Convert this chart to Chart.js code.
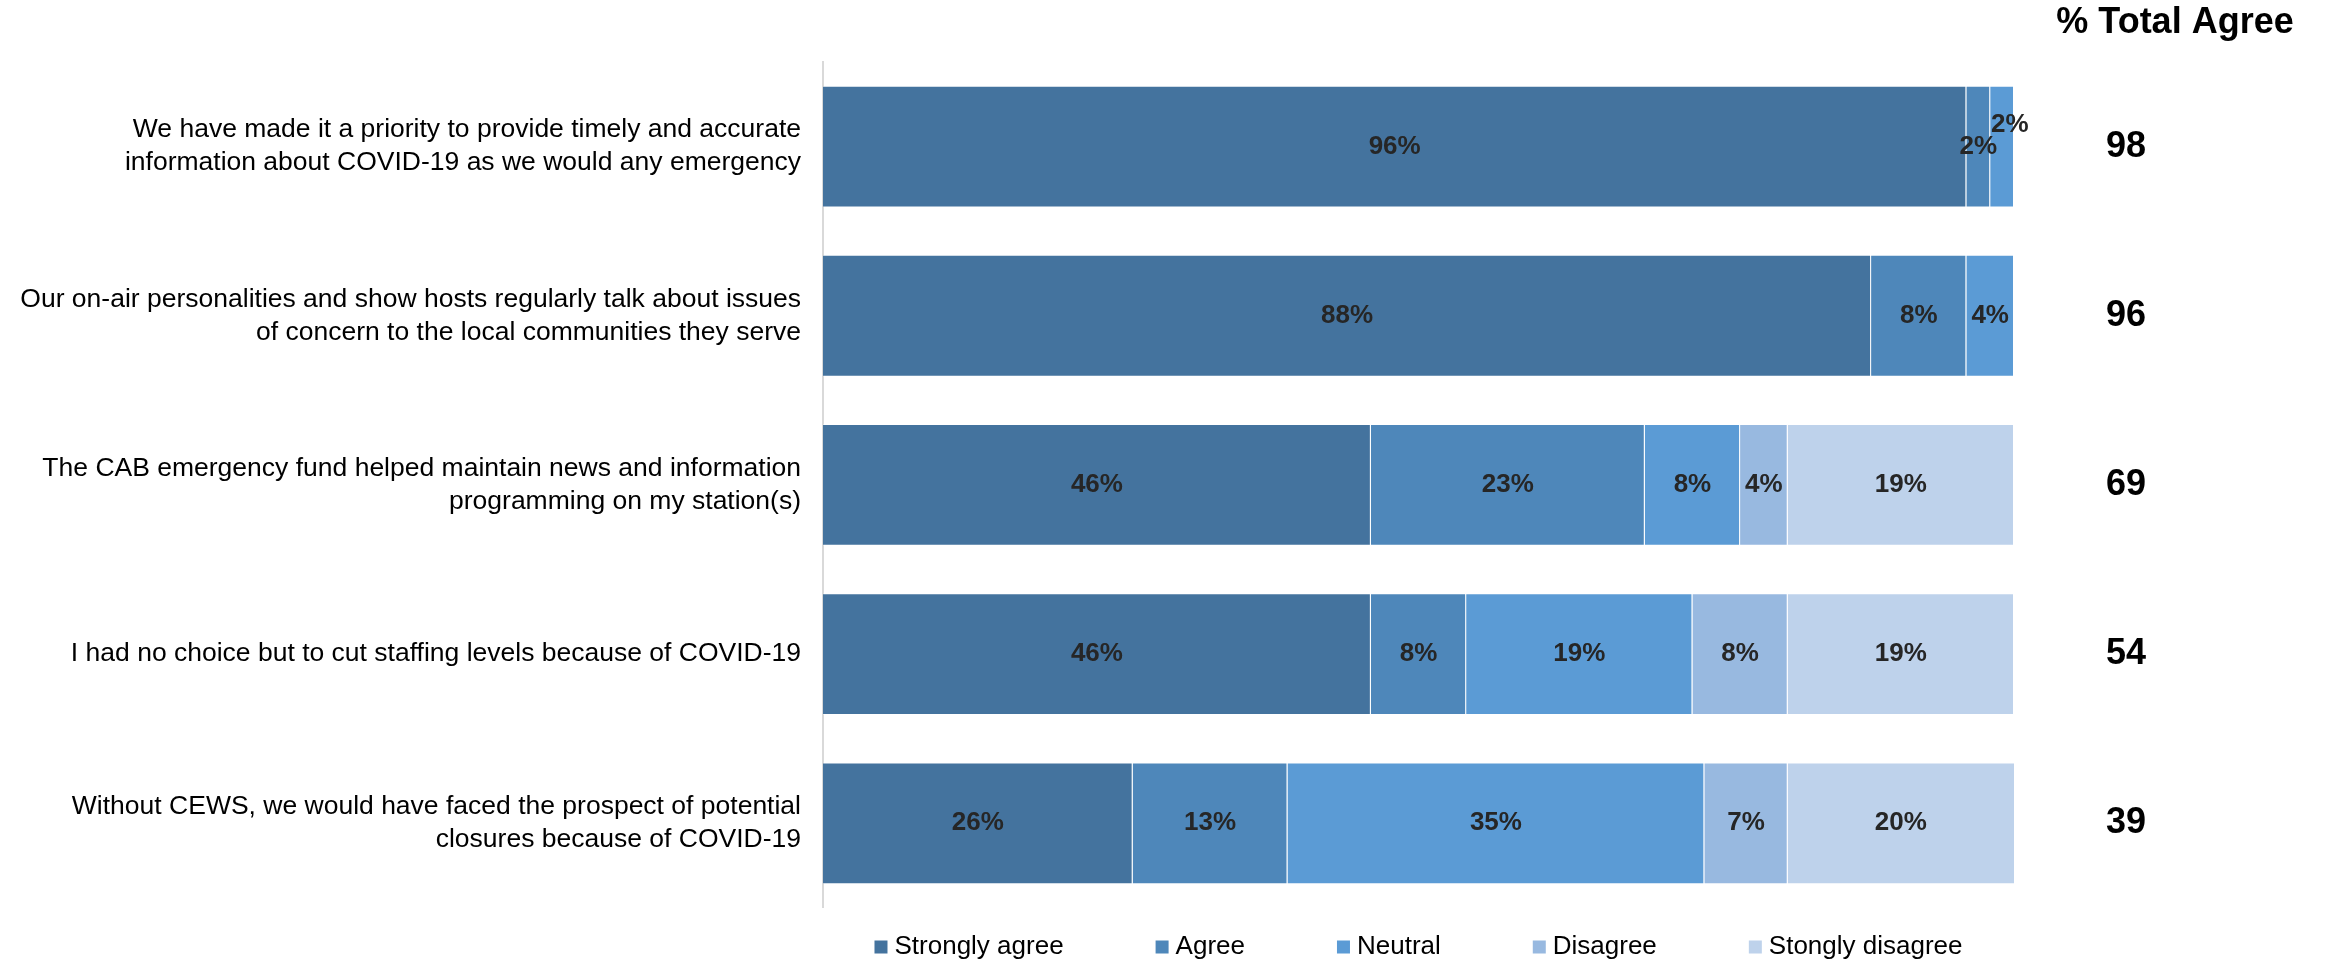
<!DOCTYPE html>
<html>
<head>
<meta charset="utf-8">
<script src="https://cdn.jsdelivr.net/npm/chart.js@4"></script>
<style>
  body { margin: 0; background: #fff; }
  canvas { display: block; }
</style>
</head>
<body>
<canvas id="agreeChart" width="2325" height="963"></canvas>
<script>
const categories = [
    ['We have made it a priority to provide timely and accurate', 'information about COVID-19 as we would any emergency'],
    ['Our on-air personalities and show hosts regularly talk about issues', 'of concern to the local communities they serve'],
    ['The CAB emergency fund helped maintain news and information', 'programming on my station(s)'],
    'I had no choice but to cut staffing levels because of COVID-19',
    ['Without CEWS, we would have faced the prospect of potential', 'closures because of COVID-19']
];
const seriesNames = ['Strongly agree', 'Agree', 'Neutral', 'Disagree', 'Stongly disagree'];
const stronglyAgree = [96, 88, 46, 46, 26];
const agree = [2, 8, 23, 8, 13];
const neutral = [2, 4, 8, 19, 35];
const disagree = [0, 0, 4, 8, 7];
const stronglyDisagree = [0, 0, 19, 19, 20];
const totalAgree = [98, 96, 69, 54, 39];
const colors = ['#44739e', '#4e87ba', '#5b9bd5', '#98b9e0', '#bed2eb'];

const FONT = '"Liberation Sans", Arial, sans-serif';

// percentage labels inside the segments, the total column and a legend
const extras = {
    id: 'extras',
    afterDatasetsDraw(chart) {
        const ctx = chart.ctx;
        const area = chart.chartArea;
        ctx.save();
        ctx.font = 'bold 26px ' + FONT;
        ctx.fillStyle = '#262626';
        ctx.textAlign = 'center';
        ctx.textBaseline = 'middle';
        const lastRight = [];
        chart.data.datasets.forEach((ds, i) => {
            chart.getDatasetMeta(i).data.forEach((bar, j) => {
                const v = ds.data[j];
                if (!v) return;
                const text = v + '%';
                const w = ctx.measureText(text).width;
                let x = (bar.base + Math.min(bar.x, area.right)) / 2;
                let y = bar.y;
                // nudge a label up and right when it runs into the one before it
                if (lastRight[j] !== undefined && x - w / 2 < lastRight[j]) {
                    x = lastRight[j] - 6 + w / 2;
                    y -= 22;
                }
                ctx.fillText(text, x, y);
                lastRight[j] = x + w / 2;
            });
        });

        // total agree column
        ctx.fillStyle = '#000';
        ctx.font = 'bold 36px ' + FONT;
        const yScale = chart.scales.y;
        totalAgree.forEach((t, j) => {
            ctx.fillText(String(t), area.right + 112, yScale.getPixelForValue(j));
        });
        ctx.fillText('% Total Agree', area.right + 161, 23);

        // legend
        ctx.font = '26px ' + FONT;
        ctx.textAlign = 'left';
        const box = 13, gap = 7, spacing = 92;
        const widths = chart.data.datasets.map(ds => box + gap + ctx.measureText(ds.label).width);
        const total = widths.reduce((a, b) => a + b, 0) + spacing * (widths.length - 1);
        let x = (area.left + area.right) / 2 - total / 2;
        const ly = 947;
        chart.data.datasets.forEach((ds, i) => {
            ctx.fillStyle = ds.backgroundColor;
            ctx.fillRect(x, ly - box / 2, box, box);
            ctx.fillStyle = '#000';
            ctx.fillText(ds.label, x + box + gap, ly);
            x += widths[i] + spacing;
        });
        ctx.restore();
    }
};

const seriesValues = [stronglyAgree, agree, neutral, disagree, stronglyDisagree];

new Chart(document.getElementById('agreeChart'), {
    type: 'bar',
    data: {
        labels: categories,
        datasets: seriesValues.map((values, i) => ({
            label: seriesNames[i],
            data: values,
            backgroundColor: colors[i],
            borderColor: 'rgba(255,255,255,0.35)',
            borderWidth: 1,
            categoryPercentage: 0.72,
            barPercentage: 1.0
        }))
    },
    options: {
        indexAxis: 'y',
        responsive: false,
        animation: false,
        layout: {
            padding: { top: 62, bottom: 55, right: 311, left: 0 }
        },
        scales: {
            x: {
                stacked: true,
                min: 0,
                max: 100,
                display: false
            },
            y: {
                stacked: true,
                grid: { display: false, drawTicks: false },
                border: { display: true, color: '#d9d9d9', width: 2 },
                ticks: {
                    padding: 22,
                    color: '#000',
                    font: { family: FONT, size: 26.5, lineHeight: 1.25 }
                },
                afterFit: function (scale) {
                    scale.width = 823;
                }
            }
        },
        plugins: {
            legend: { display: false },
            tooltip: { enabled: false }
        }
    },
    plugins: [extras]
});
</script>
</body>
</html>
